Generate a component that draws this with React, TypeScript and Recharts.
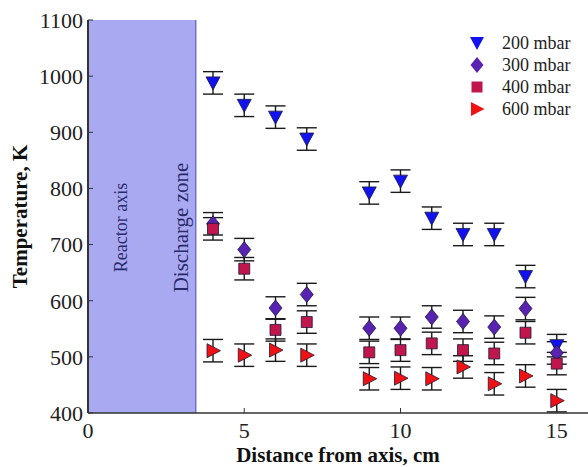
import React from 'react';
import {
  ScatterChart, Scatter, XAxis, YAxis, ErrorBar, ReferenceArea, ReferenceLine, Legend, Label,
} from 'recharts';

const distances = [4, 5, 6, 7, 9, 10, 11, 12, 13, 14, 15];
const temp200 = [988, 948, 927, 888, 792, 813, 747, 718, 718, 643, 520];
const temp300 = [737, 691, 587, 611, 551, 551, 571, 563, 553, 586, 507];
const temp400 = [728, 657, 548, 562, 508, 512, 524, 512, 506, 543, 488];
const temp600 = [511, 503, 512, 503, 461, 462, 461, 482, 452, 466, 422];
const err200 = [20, 20, 20, 20, 20, 20, 20, 20, 20, 20, 20];
const err300 = [20, 20, 20, 20, 20, 20, 20, 20, 20, 20, 20];
const err400 = [20, 20, 20, 20, 20, 20, 20, 20, 20, 20, 20];
const err600 = [20, 20, 20, 20, 20, 20, 20, 20, 20, 20, 20];
const xTicks = [0, 5, 10, 15];
const yTicks = [400, 500, 600, 700, 800, 900, 1000, 1100];
const seriesNames = ['200 mbar', '300 mbar', '400 mbar', '600 mbar'];
const dischargeZoneEdge = 3.45;

const build = (vals: number[], errs: number[]) =>
  distances.map((x, i) => ({ x, y: vals[i], err: errs[i] }));

const FONT = '"Liberation Serif", "Times New Roman", serif';
const COLORS = ['#1212f0', '#5a22b0', '#c0164c', '#f01212'];
const OUTLINE = '#1a1a3a';

type MarkerKind = 'down' | 'diamond' | 'square' | 'right';
const KINDS: MarkerKind[] = ['down', 'diamond', 'square', 'right'];

const markerPath = (kind: MarkerKind, cx: number, cy: number) => {
  switch (kind) {
    case 'down':
      return `M${cx - 7},${cy - 6} L${cx + 7},${cy - 6} L${cx},${cy + 7} Z`;
    case 'diamond':
      return `M${cx},${cy - 8} L${cx + 6.5},${cy} L${cx},${cy + 8} L${cx - 6.5},${cy} Z`;
    case 'square':
      return `M${cx - 5.5},${cy - 5.5} L${cx + 5.5},${cy - 5.5} L${cx + 5.5},${cy + 5.5} L${cx - 5.5},${cy + 5.5} Z`;
    default:
      return `M${cx - 6},${cy - 7} L${cx + 7.5},${cy} L${cx - 6},${cy + 7} Z`;
  }
};

const makeShape = (kind: MarkerKind, color: string) => (props: any) => {
  const { cx, cy } = props;
  if (cx == null || cy == null) return <g />;
  return <path d={markerPath(kind, cx, cy)} fill={color} stroke={OUTLINE} strokeWidth={0.8} />;
};

const LegendContent = () => (
  <div style={{ fontFamily: FONT, fontSize: 18, color: '#222' }}>
    {seriesNames.map((name, i) => (
      <div key={name} style={{ display: 'flex', alignItems: 'center', height: 22 }}>
        <svg width={18} height={18} style={{ marginRight: 16 }}>
          <path d={markerPath(KINDS[i], 9, 9)} fill={COLORS[i]} stroke="none" />
        </svg>
        <span>{name}</span>
      </div>
    ))}
  </div>
);

const YLabel = (props: any) => {
  const { viewBox } = props;
  const x = viewBox.x + 20;
  const y = viewBox.y + viewBox.height / 2;
  return (
    <text x={x} y={y} transform={`rotate(-90, ${x}, ${y})`} textAnchor="middle" dominantBaseline="central"
      fontFamily={FONT} fontSize={21} fontWeight="bold" fill="#111">
      Temperature, K
    </text>
  );
};

const ZoneLabels = (props: any) => {
  const { viewBox } = props;
  const cy = viewBox.y + viewBox.height / 2 + 11;
  const x1 = viewBox.x + 33;
  const x2 = viewBox.x + viewBox.width - 15;
  return (
    <g>
      <text x={x1} y={cy} transform={`rotate(-90, ${x1}, ${cy})`} textAnchor="middle" dominantBaseline="central"
        fontFamily={FONT} fontSize={18} fill="#2a2a6a">
        Reactor axis
      </text>
      <text x={x2} y={cy} transform={`rotate(-90, ${x2}, ${cy})`} textAnchor="middle" dominantBaseline="central"
        fontFamily={FONT} fontSize={21} fill="#2a2a6a">
        Discharge zone
      </text>
    </g>
  );
};

export default function App() {
  const data = [
    build(temp200, err200),
    build(temp300, err300),
    build(temp400, err400),
    build(temp600, err600),
  ];
  return (
    <div style={{ position: 'absolute', left: 0, top: 0, background: '#fff' }}>
      <ScatterChart width={588} height={467} margin={{ top: 20, right: 0, bottom: 0, left: 0 }}>
        <ReferenceArea x1={0} x2={dischargeZoneEdge} y1={400} y2={1100} fill="#a9a9f2" fillOpacity={1}
          stroke="none" ifOverflow="hidden">
          <Label content={ZoneLabels} />
        </ReferenceArea>
        <ReferenceLine x={dischargeZoneEdge} stroke="#5c5cc0" strokeWidth={1.2} />
        <XAxis type="number" dataKey="x" domain={[0, 16]} ticks={xTicks} allowDataOverflow height={54}
          tickSize={-5} tickMargin={14} axisLine={{ stroke: '#333', strokeWidth: 1.5 }}
          tickLine={{ stroke: '#333' }}
          tick={{ fontFamily: FONT, fontSize: 22, fill: '#222' }}>
          <Label value="Distance from axis, cm" position="insideBottom" offset={5}
            style={{ fontFamily: FONT, fontSize: 21, fontWeight: 'bold', fill: '#111' }} />
        </XAxis>
        <XAxis xAxisId="top" orientation="top" type="number" dataKey="x" domain={[0, 16]} ticks={xTicks}
          allowDataOverflow height={0} tickSize={-6} tickFormatter={() => ''}
          axisLine={{ stroke: '#333', strokeWidth: 1.2 }} tickLine={{ stroke: '#333' }} />
        <YAxis type="number" dataKey="y" domain={[400, 1100]} ticks={yTicks} allowDataOverflow width={88}
          tickSize={-5} tickMargin={10} axisLine={{ stroke: '#333', strokeWidth: 2 }}
          tickLine={{ stroke: '#333' }}
          tick={{ fontFamily: FONT, fontSize: 22, fill: '#222' }}>
          <Label content={YLabel} />
        </YAxis>
        <YAxis yAxisId="right" orientation="right" type="number" domain={[400, 1100]} ticks={yTicks}
          allowDataOverflow width={0} tickSize={-6} tickFormatter={() => ''}
          axisLine={{ stroke: '#333' }} tickLine={{ stroke: '#333' }} />
        <Legend layout="vertical" verticalAlign="middle" align="center" content={LegendContent}
          wrapperStyle={{ top: 32, left: 468, width: 120 }} />
        {data.map((d, i) => (
          <Scatter key={seriesNames[i]} name={seriesNames[i]} data={d} fill={COLORS[i]}
            shape={makeShape(KINDS[i], COLORS[i])} isAnimationActive={false}>
            <ErrorBar dataKey="err" direction="y" width={10} stroke="#1a1a1a" strokeWidth={1.4} />
          </Scatter>
        ))}
      </ScatterChart>
    </div>
  );
}
